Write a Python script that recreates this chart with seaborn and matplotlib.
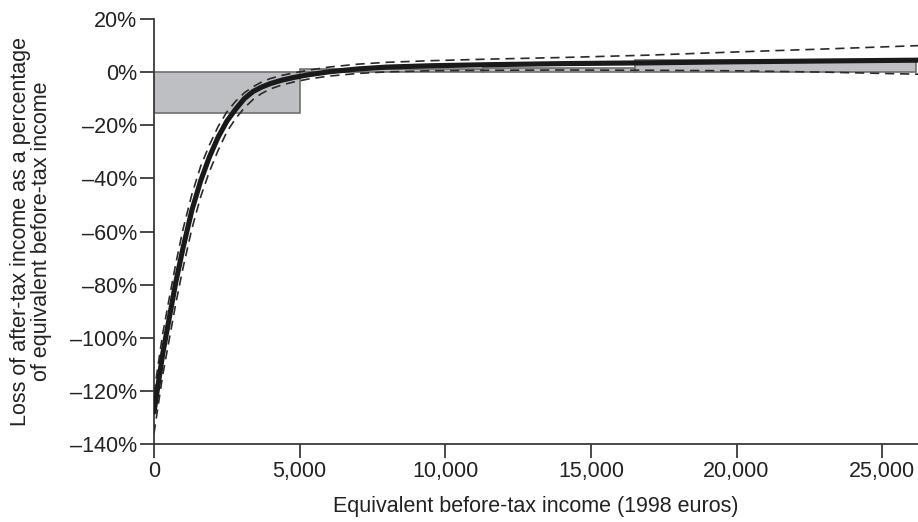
import matplotlib
matplotlib.use("Agg")
import matplotlib.pyplot as plt
import seaborn as sns
import pandas as pd
from matplotlib.ticker import FuncFormatter, FixedLocator

# ---- data ----
income = [0, 150, 300, 500, 750, 1000, 1300, 1600, 1900, 2200, 2500, 2800, 3100,
          3400, 3700, 4000, 4400, 4800, 5300, 6000, 7000, 8000, 9500, 11500,
          14000, 17000, 20000, 23000, 26300]
loss_mid = [-128, -117, -106, -94, -79, -66, -52, -41, -32, -24.5, -18.5, -14, -10,
            -7.3, -5.6, -4.3, -3.0, -2.0, -1.0, 0.1, 1.2, 1.9, 2.4, 2.8,
            3.2, 3.5, 3.9, 4.2, 4.5]
loss_upper = [-121, -109.5, -98.5, -86.5, -72, -59, -46, -35.5, -27.5, -20.5, -15, -11, -7.8,
              -5.5, -3.7, -2.4, -1.2, -0.3, 0.7, 1.9, 3.0, 3.7, 4.3, 4.9,
              5.5, 6.4, 7.6, 8.7, 10.0]
loss_lower = [-136, -125, -114, -102, -87, -73.5, -59, -47, -37.5, -29.5, -22.5, -17.5, -13.5,
              -10.3, -8.0, -6.3, -4.8, -3.7, -2.6, -1.5, -0.5, 0.1, 0.5, 0.7,
              0.8, 0.7, 0.5, 0.0, -0.8]

bar_left = [0, 5000, 11300, 16500]
bar_right = [5000, 11300, 16500, 26150]
bar_value = [-15.5, 1.0, 1.7, 4.7]

x_ticks = [0, 5000, 10000, 15000, 20000, 25000]
y_ticks = [20, 0, -20, -40, -60, -80, -100, -120, -140]

x_label = "Equivalent before-tax income (1998 euros)"
y_label = "Loss of after-tax income as a percentage\nof equivalent before-tax income"

# ---- plot ----
sns.set_theme(style="white")
plt.rcParams["font.family"] = ["Liberation Sans", "DejaVu Sans"]

fig = plt.figure(figsize=(9.18, 5.22), dpi=100)
ax = fig.add_axes([154 / 918, 1 - 444 / 522, 1 - 154 / 918, (444 - 19) / 522])

widths = [r - l for l, r in zip(bar_left, bar_right)]
ax.bar(bar_left, bar_value, width=widths, align="edge", color="#bebfc3",
       edgecolor="#6f6f6f", linewidth=1.2, zorder=1)

df = pd.DataFrame({"income": income, "mid": loss_mid,
                   "upper": loss_upper, "lower": loss_lower})
sns.lineplot(data=df, x="income", y="mid", ax=ax, color="#1a1a1a",
             linewidth=3.7, zorder=4)
for col in ["upper", "lower"]:
    sns.lineplot(data=df, x="income", y=col, ax=ax, color="#2a2a2a",
                 linewidth=1.2, zorder=3, linestyle=(0, (5.5, 3.5)))

ax.set_xlim(0, 26230)
ax.set_ylim(-140, 20)
ax.xaxis.set_major_locator(FixedLocator(x_ticks))
ax.yaxis.set_major_locator(FixedLocator(y_ticks))
ax.xaxis.set_major_formatter(FuncFormatter(lambda v, p: f"{int(v):,}"))
ax.yaxis.set_major_formatter(FuncFormatter(
    lambda v, p: ("\u2013" if v < 0 else "") + f"{abs(int(v))}%"))

for s in ["top", "right"]:
    ax.spines[s].set_visible(False)
for s in ["left", "bottom"]:
    ax.spines[s].set_color("#3a3a3a")
    ax.spines[s].set_linewidth(1.3)
ax.tick_params(axis="both", which="major", direction="out", length=10,
               width=1.3, color="#3a3a3a", labelsize=15.5,
               labelcolor="#222222", pad=2, left=True, bottom=True)

ax.set_xlabel(x_label, fontsize=15.5, color="#222222", labelpad=10)
ax.set_ylabel(y_label, fontsize=15.5, color="#222222", linespacing=1.05)
ax.yaxis.set_label_coords(-0.133, 0.5)

fig.savefig("out.png", dpi=100)
